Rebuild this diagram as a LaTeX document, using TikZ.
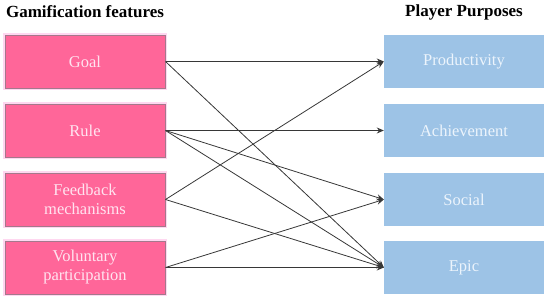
\documentclass[tikz,border=0pt]{standalone}
\usepackage{fontspec}
\setmainfont{Liberation Serif}
\usetikzlibrary{arrows.meta}
\definecolor{pinkfill}{RGB}{255,102,153}
\definecolor{pinkedge}{RGB}{165,120,140}
\definecolor{pinkhalo}{RGB}{255,215,240}
\definecolor{pinktext}{RGB}{255,228,240}
\definecolor{bluefill}{RGB}{157,195,230}
\definecolor{bluetext}{RGB}{236,244,252}
\definecolor{linkcol}{RGB}{55,55,55}
\begin{document}
\begin{tikzpicture}[x=1pt,y=-1pt,
  featbox/.style={rectangle, fill=pinkfill, draw=pinkedge, line width=1pt,
    preaction={draw=pinkhalo, line width=4pt},
    minimum width=160pt, minimum height=53pt, inner sep=0pt,
    text=pinktext, align=center, font=\fontsize{16.5}{19}\selectfont},
  purpbox/.style={rectangle, fill=bluefill, draw=none,
    minimum width=160pt, minimum height=53pt, inner sep=0pt,
    text=bluetext, align=center, font=\fontsize{16.5}{19}\selectfont},
  heading/.style={font=\fontsize{17}{20}\selectfont\bfseries, text=black, inner sep=0pt},
  link/.style={draw=linkcol, line width=0.8pt, -{Stealth[length=7pt,width=6pt]}}]
\useasboundingbox (0,0) rectangle (550,300);
\node[heading] (h1) at (85,12) {Gamification features};
\node[heading] (h2) at (464,12) {Player Purposes};
\node[featbox] (goal) at (85,61.5) {Goal};
\node[featbox] (rule) at (85,130.5) {Rule};
\node[featbox] (feed) at (85,199.5) {Feedback\\mechanisms};
\node[featbox] (vol) at (85,267.5) {Voluntary\\participation};
\node[purpbox] (prod) at (464,61.5) {Productivity};
\node[purpbox] (ach) at (464,130.5) {Achievement};
\node[purpbox] (soc) at (464,199.5) {Social};
\node[purpbox] (epic) at (464,267.5) {Epic};
\draw[link] (goal.east) -- (prod.west);
\draw[link] (goal.east) -- (epic.west);
\draw[link] (rule.east) -- (ach.west);
\draw[link] (rule.east) -- (soc.west);
\draw[link] (rule.east) -- (epic.west);
\draw[link] (feed.east) -- (prod.west);
\draw[link] (feed.east) -- (epic.west);
\draw[link] (vol.east) -- (soc.west);
\draw[link] (vol.east) -- (epic.west);
\end{tikzpicture}
\end{document}
